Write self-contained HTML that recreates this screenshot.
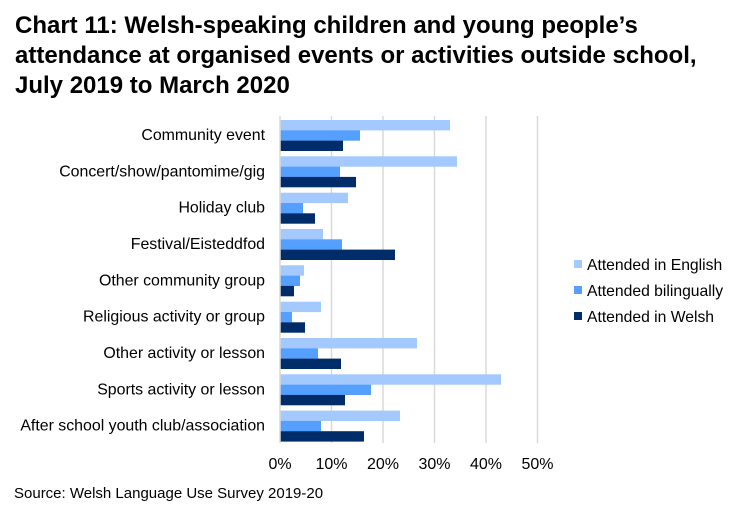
<!DOCTYPE html>
<html><head><meta charset="utf-8"><style>
body{margin:0;background:#fff;}
svg{display:block;font-family:"Liberation Sans",Arial,sans-serif;}
</style></head><body>
<svg width="737" height="510" xmlns="http://www.w3.org/2000/svg">
<g font-weight="bold" font-size="24" fill="#000">
<text x="15" y="33">Chart 11: Welsh-speaking children and young people’s</text>
<text x="15" y="63">attendance at organised events or activities outside school,</text>
<text x="15" y="93">July 2019 to March 2020</text>
</g>
<g stroke="#d9d9d9" stroke-width="1.5">
<line x1="331.5" y1="116" x2="331.5" y2="443"/>
<line x1="383" y1="116" x2="383" y2="443"/>
<line x1="434.5" y1="116" x2="434.5" y2="443"/>
<line x1="486" y1="116" x2="486" y2="443"/>
<line x1="537.5" y1="116" x2="537.5" y2="443"/>
</g>
<g>
<rect x="280" y="120" width="170" height="10.4" fill="#a3c9ff"/><rect x="280" y="130.3" width="80" height="10.4" fill="#559fff"/><rect x="280" y="140.6" width="63" height="10.4" fill="#002d6a"/>
<rect x="280" y="156.3" width="177" height="10.4" fill="#a3c9ff"/><rect x="280" y="166.6" width="60" height="10.4" fill="#559fff"/><rect x="280" y="176.9" width="76" height="10.4" fill="#002d6a"/>
<rect x="280" y="192.7" width="68" height="10.4" fill="#a3c9ff"/><rect x="280" y="203" width="23" height="10.4" fill="#559fff"/><rect x="280" y="213.3" width="35" height="10.4" fill="#002d6a"/>
<rect x="280" y="229" width="43" height="10.4" fill="#a3c9ff"/><rect x="280" y="239.3" width="62" height="10.4" fill="#559fff"/><rect x="280" y="249.6" width="115" height="10.4" fill="#002d6a"/>
<rect x="280" y="265.3" width="24" height="10.4" fill="#a3c9ff"/><rect x="280" y="275.6" width="20" height="10.4" fill="#559fff"/><rect x="280" y="285.9" width="14" height="10.4" fill="#002d6a"/>
<rect x="280" y="301.7" width="41" height="10.4" fill="#a3c9ff"/><rect x="280" y="312" width="12" height="10.4" fill="#559fff"/><rect x="280" y="322.3" width="25" height="10.4" fill="#002d6a"/>
<rect x="280" y="338" width="137" height="10.4" fill="#a3c9ff"/><rect x="280" y="348.3" width="38" height="10.4" fill="#559fff"/><rect x="280" y="358.6" width="61" height="10.4" fill="#002d6a"/>
<rect x="280" y="374.3" width="221" height="10.4" fill="#a3c9ff"/><rect x="280" y="384.6" width="91" height="10.4" fill="#559fff"/><rect x="280" y="394.9" width="65" height="10.4" fill="#002d6a"/>
<rect x="280" y="410.6" width="120" height="10.4" fill="#a3c9ff"/><rect x="280" y="420.9" width="41" height="10.4" fill="#559fff"/><rect x="280" y="431.2" width="84" height="10.4" fill="#002d6a"/>
</g>
<line x1="280" y1="116" x2="280" y2="443" stroke="#d9d9d9" stroke-width="1.5"/>
<g font-size="15.9" fill="#000" text-anchor="end">
<text x="265" y="140">Community event</text>
<text x="265" y="176.3">Concert/show/pantomime/gig</text>
<text x="265" y="212.7">Holiday club</text>
<text x="265" y="249">Festival/Eisteddfod</text>
<text x="265" y="285.3">Other community group</text>
<text x="265" y="321.7">Religious activity or group</text>
<text x="265" y="358">Other activity or lesson</text>
<text x="265" y="394.3">Sports activity or lesson</text>
<text x="265" y="430.6">After school youth club/association</text>
</g>
<g font-size="16" fill="#000" text-anchor="middle">
<text x="280" y="469">0%</text><text x="331.5" y="469">10%</text><text x="383" y="469">20%</text>
<text x="434.5" y="469">30%</text><text x="486" y="469">40%</text><text x="537.5" y="469">50%</text>
</g>
<g font-size="15.7" fill="#000">
<rect x="574" y="260" width="8" height="8" fill="#a3c9ff"/><text x="587" y="270">Attended in English</text>
<rect x="574" y="286" width="8" height="8" fill="#559fff"/><text x="587" y="296">Attended bilingually</text>
<rect x="574" y="312" width="8" height="8" fill="#002d6a"/><text x="587" y="322">Attended in Welsh</text>
</g>
<text x="14" y="498" font-size="15" fill="#000">Source: Welsh Language Use Survey 2019-20</text>
</svg>
</body></html>
